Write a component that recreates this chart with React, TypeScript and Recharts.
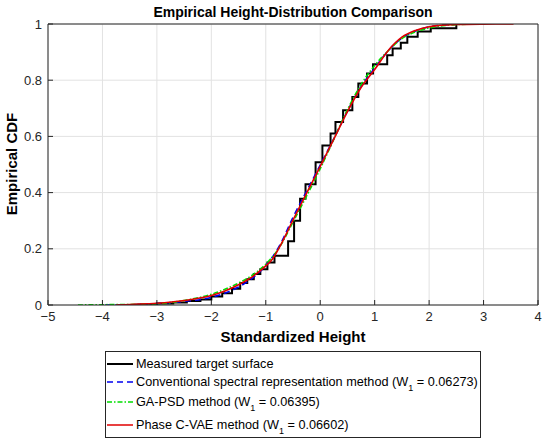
import React from "react";
import {
  LineChart,
  Line,
  XAxis,
  YAxis,
  CartesianGrid,
} from "recharts";

// Шрифт как в MATLAB (Arial -> Liberation Sans)
const FONT = "'Liberation Sans', Arial, Helvetica, sans-serif";
const AXIS_COLOR = "#262626";

// Оси
const xTicks = [-5, -4, -3, -2, -1, 0, 1, 2, 3, 4];
const yTicks = [0, 0.2, 0.4, 0.6, 0.8, 1];

// Measured target surface (ступенчатая ECDF): x скачка и значение после него
const measuredX = [
  -3.6, -3.3, -3.0, -2.7, -2.45, -2.2, -2.0, -1.8, -1.62, -1.47, -1.34, -1.22,
  -1.1, -0.97, -0.84, -0.59, -0.48, -0.37, -0.27, -0.085, 0.04, 0.19, 0.28,
  0.42, 0.59, 0.7, 0.86, 0.97, 1.23, 1.33, 1.48, 1.6, 1.79, 2.03, 2.5, 2.6,
];
const measuredP = [
  0, 0.002, 0.005, 0.009, 0.014, 0.02, 0.03, 0.042, 0.058, 0.078, 0.092, 0.11,
  0.127, 0.151, 0.175, 0.227, 0.3, 0.378, 0.43, 0.508, 0.568, 0.61, 0.651,
  0.693, 0.74, 0.788, 0.824, 0.857, 0.889, 0.913, 0.933, 0.955, 0.973, 0.985,
  1.0, 1.0,
];

// Conventional spectral representation method
const conventionalX = [
  -3.95, -3.5, -3.0, -2.5, -2.0, -1.75, -1.5, -1.25, -1.0, -0.75, -0.5, -0.25,
  0, 0.25, 0.5, 0.75, 1.0, 1.25, 1.5, 1.75, 2.0, 2.3, 2.7,
];
const conventionalP = [
  0, 0.001, 0.005, 0.013, 0.027, 0.042, 0.064, 0.095, 0.14, 0.21, 0.312, 0.405,
  0.498, 0.592, 0.69, 0.777, 0.843, 0.905, 0.95, 0.975, 0.99, 0.997, 1,
];

// GA-PSD method
const gaPsdX = [
  -4.45, -4.0, -3.5, -3.0, -2.5, -2.0, -1.75, -1.5, -1.25, -1.0, -0.75, -0.5,
  -0.25, 0, 0.25, 0.5, 0.75, 1.0, 1.25, 1.5, 1.75, 2.0, 2.3, 2.8,
];
const gaPsdP = [
  0, 0.001, 0.002, 0.004, 0.016, 0.038, 0.056, 0.078, 0.106, 0.145, 0.205,
  0.295, 0.388, 0.485, 0.59, 0.695, 0.785, 0.852, 0.905, 0.948, 0.972, 0.986,
  0.995, 1,
];

// Phase C-VAE method
const cvaeX = [
  -3.75, -3.5, -3.0, -2.5, -2.0, -1.75, -1.5, -1.25, -1.0, -0.88, -0.75, -0.5,
  -0.25, 0, 0.25, 0.5, 0.75, 1.0, 1.25, 1.5, 1.75, 2.0, 2.25, 2.5, 3.0, 3.55,
];
const cvaeP = [
  0, 0.002, 0.006, 0.016, 0.034, 0.05, 0.072, 0.1, 0.139, 0.163, 0.205, 0.302,
  0.398, 0.493, 0.59, 0.688, 0.774, 0.838, 0.906, 0.953, 0.977, 0.99, 0.996,
  0.998, 0.9995, 1,
];

const toPoints = (xs: number[], ps: number[]) =>
  xs.map((x, i) => ({ x, p: ps[i] }));

const measured = toPoints(measuredX, measuredP);
const conventional = toPoints(conventionalX, conventionalP);
const gaPsd = toPoints(gaPsdX, gaPsdP);
const cvae = toPoints(cvaeX, cvaeP);

const fmtX = (v: number) => (v < 0 ? `\u2212${Math.abs(v)}` : `${v}`);
const fmtY = (v: number) => `${Math.round(v * 10) / 10}`;

const tickStyle = { fontSize: 13, fill: AXIS_COLOR, fontFamily: FONT };

// Элементы легенды
const legendRows = [
  { name: "Measured target surface", sub: null, color: "#000000", dash: undefined, width: 2, top: 12 },
  { name: "Conventional spectral representation method (W", sub: " = 0.06273)", color: "#0000ee", dash: "6 4", width: 1.5, top: 30 },
  { name: "GA-PSD method (W", sub: " = 0.06395)", color: "#00dd00", dash: "5 2 1.5 2", width: 1.5, top: 50 },
  { name: "Phase C-VAE method (W", sub: " = 0.06602)", color: "#e00000", dash: undefined, width: 1.5, top: 73 },
];

export default function App() {
  return (
    <div
      style={{
        position: "absolute",
        left: 0,
        top: 0,
        width: 550,
        height: 444,
        background: "#fff",
        fontFamily: FONT,
        color: "#000",
      }}
    >
      <LineChart
        width={550}
        height={444}
        margin={{ top: 23, right: 11, bottom: 138, left: 47 }}
      >
        <CartesianGrid stroke="#e2e2e2" strokeWidth={1} />
        <XAxis
          dataKey="x"
          type="number"
          domain={[-5, 4]}
          ticks={xTicks}
          allowDataOverflow
          height={1}
          tickSize={-5}
          tickMargin={12}
          tickFormatter={fmtX}
          tick={tickStyle}
          stroke={AXIS_COLOR}
          interval={0}
        />
        <XAxis
          xAxisId="top"
          orientation="top"
          dataKey="x"
          type="number"
          domain={[-5, 4]}
          ticks={xTicks}
          allowDataOverflow
          height={1}
          tickSize={-5}
          tick={false}
          stroke={AXIS_COLOR}
        />
        <YAxis
          type="number"
          domain={[0, 1]}
          ticks={yTicks}
          allowDataOverflow
          width={1}
          tickSize={-5}
          tickMargin={11}
          tickFormatter={fmtY}
          tick={tickStyle}
          stroke={AXIS_COLOR}
          interval={0}
        />
        <YAxis
          yAxisId="right"
          orientation="right"
          type="number"
          domain={[0, 1]}
          ticks={yTicks}
          allowDataOverflow
          width={1}
          tickSize={-5}
          tick={false}
          stroke={AXIS_COLOR}
        />
        <Line
          data={measured}
          dataKey="p"
          type="stepAfter"
          stroke="#000000"
          strokeWidth={2}
          dot={false}
          activeDot={false}
          isAnimationActive={false}
        />
        <Line
          data={conventional}
          dataKey="p"
          type="monotone"
          stroke="#0000ee"
          strokeWidth={1.6}
          strokeDasharray="6 4"
          dot={false}
          activeDot={false}
          isAnimationActive={false}
        />
        <Line
          data={gaPsd}
          dataKey="p"
          type="monotone"
          stroke="#00dd00"
          strokeWidth={1.6}
          strokeDasharray="5 2 1.5 2"
          dot={false}
          activeDot={false}
          isAnimationActive={false}
        />
        <Line
          data={cvae}
          dataKey="p"
          type="monotone"
          stroke="#e00000"
          strokeWidth={1.6}
          dot={false}
          activeDot={false}
          isAnimationActive={false}
        />
      </LineChart>

      {/* Заголовок */}
      <div
        style={{
          position: "absolute",
          left: 48,
          width: 490,
          top: 4,
          textAlign: "center",
          fontWeight: "bold",
          fontSize: 14,
          lineHeight: "17px",
        }}
      >
        Empirical Height-Distribution Comparison
      </div>

      {/* Подпись оси X */}
      <div
        style={{
          position: "absolute",
          left: 48,
          width: 490,
          top: 328,
          textAlign: "center",
          fontWeight: "bold",
          fontSize: 15,
          lineHeight: "18px",
        }}
      >
        Standardized Height
      </div>

      {/* Подпись оси Y */}
      <div
        style={{
          position: "absolute",
          left: 12,
          top: 164,
          transform: "translate(-50%, -50%) rotate(-90deg)",
          whiteSpace: "nowrap",
          fontWeight: "bold",
          fontSize: 15,
          lineHeight: "18px",
        }}
      >
        Empirical CDF
      </div>

      {/* Легенда */}
      <div
        style={{
          position: "absolute",
          left: 105,
          top: 351,
          width: 374,
          height: 85,
          border: `1px solid ${AXIS_COLOR}`,
          background: "#fff",
        }}
      >
        {legendRows.map((r) => (
          <div
            key={r.name}
            style={{
              position: "absolute",
              left: 0,
              top: r.top - 8,
              height: 16,
              display: "flex",
              alignItems: "center",
              whiteSpace: "nowrap",
              fontSize: 12.7,
            }}
          >
            <svg width={30} height={16} style={{ display: "block" }}>
              <line
                x1={1}
                x2={27}
                y1={8}
                y2={8}
                stroke={r.color}
                strokeWidth={r.width}
                strokeDasharray={r.dash}
              />
            </svg>
            <span>
              {r.name}
              {r.sub !== null && (
                <>
                  <span style={{ fontSize: 9, position: "relative", top: 5 }}>1</span>
                  {r.sub}
                </>
              )}
            </span>
          </div>
        ))}
      </div>
    </div>
  );
}
